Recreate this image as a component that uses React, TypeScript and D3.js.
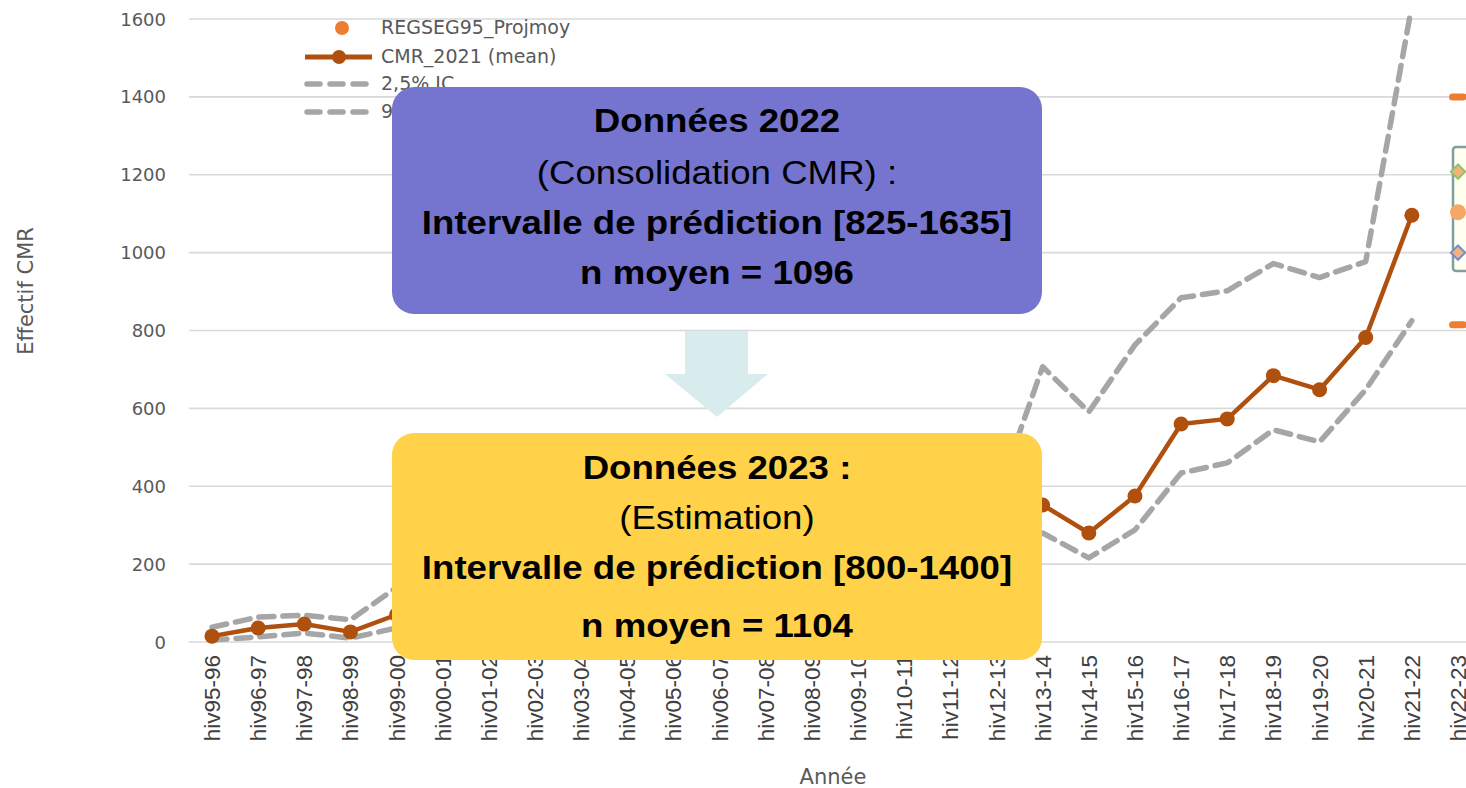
import React from 'react';
import * as d3 from 'd3';

// saisons hivernales
const categories = [
  'hiv95-96', 'hiv96-97', 'hiv97-98', 'hiv98-99', 'hiv99-00', 'hiv00-01', 'hiv01-02',
  'hiv02-03', 'hiv03-04', 'hiv04-05', 'hiv05-06', 'hiv06-07', 'hiv07-08', 'hiv08-09',
  'hiv09-10', 'hiv10-11', 'hiv11-12', 'hiv12-13', 'hiv13-14', 'hiv14-15', 'hiv15-16',
  'hiv16-17', 'hiv17-18', 'hiv18-19', 'hiv19-20', 'hiv20-21', 'hiv21-22', 'hiv22-23'
];

// CMR_2021 (mean)
const meanValues = [
  15, 36, 46, 26, 70, 90, 105, 120, 140, 160, 175, 195, 215, 235,
  250, 270, 290, 310, 352, 280, 375, 560, 573, 684, 648, 782, 1096, null
];
// 2,5% IC
const lowValues = [
  5, 13, 23, 10, 36, 50, 60, 70, 80, 95, 105, 120, 135, 150,
  165, 180, 200, 230, 280, 216, 288, 434, 460, 545, 514, 648, 825, null
];
// 97,5% IC
const highValues = [
  38, 64, 69, 57, 140, 170, 190, 210, 230, 250, 270, 290, 310, 330,
  345, 355, 365, 370, 707, 591, 763, 884, 902, 972, 936, 977, 1635, null
];

// hiv22-23
const projMoy = 1104;
const projBounds = [1400, 815];
const projDiamonds = [
  { value: 1208, stroke: '#8fc46a' },
  { value: 1000, stroke: '#6d8fd6' }
];

const yTicks = [0, 200, 400, 600, 800, 1000, 1200, 1400, 1600];

const legendItems = ['REGSEG95_Projmoy', 'CMR_2021 (mean)', '2,5% IC', '97,5% IC'];

const box2022 = ['Données 2022', '(Consolidation CMR) :', 'Intervalle de prédiction [825-1635]', 'n moyen = 1096'];
const box2023 = ['Données 2023 :', '(Estimation)', 'Intervalle de prédiction [800-1400]', 'n moyen = 1104'];

const W = 1466, H = 788;
const BROWN = '#b0500f';
const GREY_DASH = '#a6a6a6';
const ORANGE = '#ed7d31';
const TXT = '#595959';
const CAL = '"DejaVu Sans", sans-serif';
const ARIAL = '"Liberation Sans", Arial, sans-serif';

export default function App() {
  const x = d3.scalePoint<string>().domain(categories).range([212, 1458]);
  const y = d3.scaleLinear().domain([0, 1600]).range([642, 19]);
  const step = x.step();
  const left = (x(categories[0]) as number) - step / 2;
  const right = (x(categories[categories.length - 1]) as number) + step / 2;

  const line = d3.line<number | null>()
    .defined(d => d != null)
    .x((d, i) => x(categories[i]) as number)
    .y(d => y(d as number));

  const lastX = x('hiv22-23') as number;

  const boxLines = (lines: string[], baselines: number[]) => (
    <g transform="translate(717,0) scale(1.11,1)">
      {lines.map((t, i) => (
        <text key={t} x={0} y={baselines[i]} textAnchor="middle" fontFamily={ARIAL}
          fontSize={33} fontWeight={i === 1 ? 'normal' : 'bold'} fill="#000">{t}</text>
      ))}
    </g>
  );

  return (
    <div style={{ position: 'absolute', left: 0, top: 0, width: W, height: H, overflow: 'hidden', background: '#fff' }}>
      <svg width={W} height={H} style={{ display: 'block' }}>
        <defs>
          <clipPath id="plot">
            <rect x={left - 10} y={13} width={W} height={650} />
          </clipPath>
        </defs>

        {/* grille */}
        {yTicks.map(t => (
          <g key={t}>
            <line x1={left} x2={right} y1={y(t)} y2={y(t)} stroke="#d9d9d9" strokeWidth={1.6} />
            <text x={166} y={y(t) + 6.5} textAnchor="end" fontFamily={CAL} fontSize={18} fill={TXT}>{t}</text>
          </g>
        ))}

        {/* libellés x */}
        {categories.map(c => (
          <text key={c} transform={`translate(${(x(c) as number) + 8},655) rotate(-90)`} textAnchor="end"
            fontFamily={ARIAL} fontSize={22.5} fill="#404040">{c}</text>
        ))}

        <text transform="translate(33,291) rotate(-90)" textAnchor="middle" fontFamily={CAL} fontSize={21} fill={TXT}>Effectif CMR</text>
        <text x={833} y={784} textAnchor="middle" fontFamily={CAL} fontSize={21} fill={TXT}>Année</text>

        <g clipPath="url(#plot)">
          <path d={line(highValues) || ''} fill="none" stroke={GREY_DASH} strokeWidth={5.5} strokeDasharray="15 9" strokeLinecap="round" strokeLinejoin="round" />
          <path d={line(lowValues) || ''} fill="none" stroke={GREY_DASH} strokeWidth={5.5} strokeDasharray="15 9" strokeLinecap="round" strokeLinejoin="round" />
          <path d={line(meanValues) || ''} fill="none" stroke={BROWN} strokeWidth={4.5} strokeLinejoin="round" />
          {meanValues.map((v, i) => v == null ? null : (
            <circle key={i} cx={x(categories[i]) as number} cy={y(v)} r={7.5} fill={BROWN} />
          ))}

          {/* hiv22-23 */}
          {projBounds.map(v => (
            <rect key={v} x={lastX - 9} y={y(v) - 3.5} width={18} height={7} rx={3.5} fill={ORANGE} />
          ))}
          <rect x={lastX - 5} y={147} width={40} height={124} rx={3} fill="#fffff0" stroke="#7f9f9f" strokeWidth={2.5} />
          {projDiamonds.map(dm => (
            <path key={dm.value} d={d3.symbol().type(d3.symbolDiamond2).size(130)() || ''}
              transform={`translate(${lastX},${y(dm.value)})`} fill="#f6b07a" stroke={dm.stroke} strokeWidth={2} />
          ))}
          <circle cx={lastX} cy={y(projMoy)} r={8} fill="#f5a866" />
        </g>

        {/* légende */}
        <circle cx={342} cy={28} r={7} fill={ORANGE} />
        <line x1={305} x2={372} y1={57} y2={57} stroke={BROWN} strokeWidth={5} />
        <circle cx={339} cy={57} r={7} fill={BROWN} />
        {[84, 112].map(ly => (
          <line key={ly} x1={307} x2={372} y1={ly} y2={ly} stroke={GREY_DASH} strokeWidth={5.5} strokeDasharray="13 10" strokeLinecap="round" />
        ))}
        {legendItems.map((t, i) => (
          <text key={t} x={381} y={[34, 63, 90, 118][i]} fontFamily={CAL} fontSize={19} fill={TXT}>{t}</text>
        ))}

        {/* flèche */}
        <path d="M685,331 L748,331 L748,374 L768,374 L717,417 L665,374 L685,374 Z" fill="#d8ecee" />

        {/* encadrés */}
        <rect x={392} y={87} width={650} height={227} rx={22} fill="#7575d0" />
        {boxLines(box2022, [132, 184, 234, 284])}
        <rect x={392} y={433} width={650} height={227} rx={22} fill="#ffd24a" />
        {boxLines(box2023, [479, 529, 579, 637])}
      </svg>
    </div>
  );
}
